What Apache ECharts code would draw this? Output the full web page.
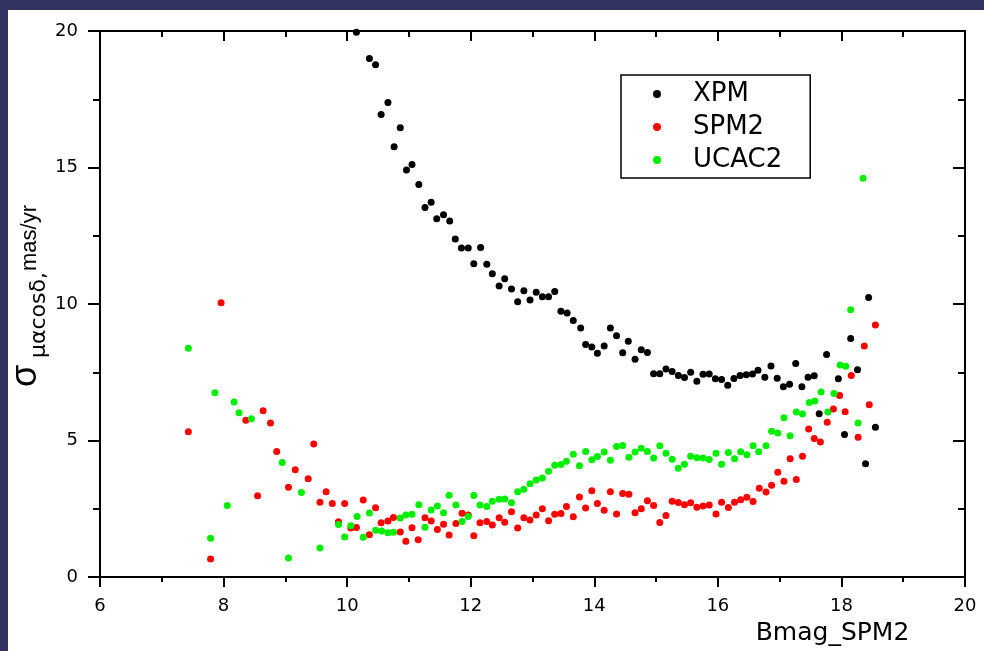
<!DOCTYPE html>
<html>
<head>
<meta charset="utf-8">
<script src="https://cdn.jsdelivr.net/npm/echarts@6/dist/echarts.min.js"></script>
<style>
  html, body { margin: 0; padding: 0; background: #343463; }
  #chart { width: 984px; height: 651px; }
</style>
</head>
<body>
<div id="chart"></div>
<script>
// Proper-motion error vs. B magnitude for three catalogues
const xpmMag = [10.15,10.36,10.46,10.55,10.66,10.76,10.86,10.96,11.05,11.16,11.26,11.36,11.45,11.56,11.66,11.75,11.85,11.96,12.05,12.16,12.26,12.35,12.46,12.55,12.66,12.76,12.86,12.96,13.06,13.16,13.26,13.36,13.46,13.56,13.66,13.78,13.86,13.96,14.05,14.16,14.26,14.36,14.46,14.55,14.66,14.76,14.86,14.96,15.06,15.16,15.26,15.36,15.46,15.56,15.66,15.76,15.86,15.96,16.06,16.16,16.26,16.36,16.46,16.56,16.65,16.76,16.86,16.96,17.06,17.16,17.26,17.36,17.46,17.56,17.64,17.76,17.95,18.05,18.15,18.26,18.39,18.44,18.55];
const xpmSigma = [19.95,18.99,18.76,16.94,17.38,15.76,16.46,14.91,15.11,14.38,13.54,13.73,13.12,13.27,13.04,12.38,12.05,12.05,11.48,12.07,11.46,11.11,10.66,10.93,10.55,10.08,10.49,10.15,10.43,10.27,10.27,10.46,9.74,9.67,9.40,9.12,8.52,8.43,8.20,8.46,9.12,8.84,8.22,8.64,7.98,8.33,8.23,7.45,7.45,7.62,7.53,7.38,7.31,7.50,7.17,7.43,7.44,7.26,7.24,7.03,7.27,7.38,7.41,7.44,7.58,7.32,7.73,7.28,6.97,7.06,7.82,6.97,7.32,7.37,5.98,8.15,7.26,5.22,8.74,7.59,4.15,10.24,5.49];

const spm2Mag = [7.43,7.79,7.96,8.36,8.55,8.64,8.76,8.86,9.05,9.16,9.37,9.46,9.56,9.66,9.76,9.86,9.96,10.06,10.15,10.26,10.36,10.46,10.55,10.66,10.75,10.86,10.95,11.05,11.15,11.26,11.36,11.46,11.56,11.65,11.76,11.86,11.96,12.05,12.15,12.26,12.35,12.46,12.55,12.66,12.76,12.86,12.96,13.06,13.16,13.26,13.36,13.46,13.55,13.66,13.76,13.86,13.96,14.05,14.16,14.26,14.36,14.46,14.56,14.66,14.76,14.86,14.96,15.06,15.16,15.26,15.36,15.46,15.56,15.66,15.76,15.86,15.97,16.06,16.17,16.27,16.37,16.47,16.57,16.67,16.78,16.87,16.97,17.07,17.17,17.27,17.37,17.47,17.56,17.66,17.77,17.87,17.97,18.06,18.16,18.27,18.37,18.45,18.55];
const spm2Sigma = [5.32,0.66,10.05,5.74,2.98,6.09,5.64,4.60,3.29,3.93,3.60,4.87,2.74,3.13,2.70,2.03,2.70,1.80,1.82,2.82,1.55,2.54,1.99,2.05,2.18,1.65,1.31,1.81,1.37,2.17,2.05,1.74,1.94,1.54,1.96,2.34,2.27,1.51,1.99,2.04,1.91,2.17,2.01,2.39,1.80,2.17,2.09,2.27,2.50,2.06,2.30,2.33,2.59,2.21,2.93,2.53,3.16,2.70,2.45,3.13,2.31,3.06,3.03,2.36,2.50,2.80,2.62,2.00,2.26,2.78,2.73,2.65,2.72,2.56,2.60,2.64,2.31,2.74,2.55,2.74,2.83,2.92,2.77,3.25,3.12,3.36,3.84,3.51,4.33,3.57,4.43,5.42,5.08,4.95,5.67,6.16,6.65,6.06,7.38,5.12,8.46,6.31,9.23];

const ucac2Mag = [7.43,7.79,7.86,8.06,8.17,8.25,8.45,8.95,9.05,9.26,9.56,9.86,9.96,10.06,10.16,10.26,10.36,10.46,10.56,10.66,10.75,10.86,10.95,11.05,11.16,11.26,11.36,11.46,11.56,11.65,11.76,11.86,11.96,12.05,12.15,12.26,12.35,12.46,12.55,12.66,12.76,12.86,12.96,13.06,13.16,13.26,13.36,13.46,13.55,13.66,13.76,13.86,13.96,14.05,14.16,14.26,14.36,14.46,14.56,14.66,14.76,14.86,14.96,15.06,15.16,15.26,15.36,15.46,15.56,15.66,15.76,15.86,15.97,16.06,16.17,16.27,16.37,16.47,16.57,16.66,16.78,16.87,16.97,17.07,17.17,17.27,17.37,17.48,17.57,17.67,17.78,17.88,17.98,18.07,18.15,18.27,18.35];
const ucac2Sigma = [8.38,1.42,6.75,2.62,6.41,6.02,5.80,4.20,0.70,3.10,1.07,1.93,1.47,1.88,2.22,1.46,2.35,1.72,1.69,1.62,1.64,2.16,2.27,2.30,2.65,1.83,2.46,2.60,2.36,3.00,2.64,2.04,2.22,2.99,2.64,2.59,2.78,2.85,2.86,2.72,3.13,3.22,3.42,3.56,3.63,3.88,4.10,4.12,4.24,4.50,4.08,4.60,4.30,4.42,4.58,4.28,4.78,4.82,4.39,4.58,4.72,4.60,4.36,4.81,4.54,4.32,3.99,4.13,4.43,4.37,4.36,4.31,4.54,4.13,4.56,4.33,4.59,4.48,4.81,4.59,4.81,5.34,5.28,5.84,5.18,6.05,5.97,6.39,6.45,6.78,6.05,6.72,7.77,7.72,9.79,5.64,14.61];

const seriesNames = ['XPM', 'SPM2', 'UCAC2'];
const seriesColors = ['#000000', '#ff0000', '#00ee00'];
const xTicks = { min: 6, max: 20, step: 2 };
const yTicks = { min: 0, max: 20, step: 5 };

const pairs = (xs, ys) => xs.map((x, i) => [x, ys[i]]);
const seriesData = [pairs(xpmMag, xpmSigma), pairs(spm2Mag, spm2Sigma), pairs(ucac2Mag, ucac2Sigma)];

const FONT = 'DejaVu Sans';
const axisLine = { show: true, onZero: false, lineStyle: { color: '#000', width: 2 } };

// Vertical y-axis title: σ with subscript μαcosδ, then the unit.
// The group is turned 90° so local x runs up the page and local y runs right.
const yTitle = {
  type: 'group', x: 0, y: 390, rotation: Math.PI / 2, silent: true,
  children: [
    { type: 'text', x: 3, y: 26,
      style: { text: 'σ', fontFamily: 'Liberation Sans', fontSize: 36, fill: '#000', align: 'left', verticalAlign: 'middle' } },
    { type: 'text', x: 32, y: 39,
      style: { text: 'μαcosδ,', fontFamily: 'DejaVu Sans', fontSize: 22, fill: '#000', align: 'left', verticalAlign: 'middle' } },
    { type: 'text', x: 119, y: 30,
      style: { text: 'mas/yr', fontFamily: 'Liberation Sans', fontSize: 22, fill: '#000', align: 'left', verticalAlign: 'middle' } }
  ]
};

const chart = echarts.init(document.getElementById('chart'), null, { renderer: 'canvas' });

chart.setOption({
  backgroundColor: '#343463',
  animation: false,
  graphic: [{
    type: 'rect', z: -10, silent: true,
    shape: { x: 8, y: 10, width: 976, height: 641 },
    style: { fill: '#ffffff' }
  }, yTitle],
  grid: { left: 100, right: 19, top: 31, bottom: 67 },
  legend: {
    orient: 'vertical',
    left: 621, top: 75,
    padding: [4, 28, 3, 32],
    itemGap: 3,
    itemWidth: 8, itemHeight: 8,
    icon: 'circle',
    backgroundColor: '#fff',
    borderColor: '#000', borderWidth: 1.5,
    textStyle: { fontFamily: FONT, fontSize: 26, lineHeight: 30, color: '#000', padding: [0, 0, 0, 27] },
    data: seriesNames
  },
  xAxis: [{
    type: 'value', position: 'bottom',
    min: xTicks.min, max: xTicks.max, interval: xTicks.step,
    axisLine,
    axisTick: { show: true, length: 10, lineStyle: { color: '#000', width: 2 } },
    minorTick: { show: true, splitNumber: 2, length: 5, lineStyle: { color: '#000', width: 2 } },
    splitLine: { show: false },
    axisLabel: { fontFamily: FONT, fontSize: 18, color: '#000', margin: 20 },
    name: 'Bmag_SPM2',
    nameLocation: 'middle', nameGap: 32,
    nameTextStyle: { fontFamily: FONT, fontSize: 25, lineHeight: 26, color: '#000', padding: [0, 0, 0, 600] }
  }, {
    type: 'value', position: 'top',
    min: xTicks.min, max: xTicks.max, interval: xTicks.step,
    axisLine,
    axisTick: { show: true, inside: true, length: 10, lineStyle: { color: '#000', width: 2 } },
    minorTick: { show: true, splitNumber: 2, length: 6, lineStyle: { color: '#000', width: 2 } },
    splitLine: { show: false },
    axisLabel: { show: false }
  }],
  yAxis: [{
    type: 'value', position: 'left',
    min: yTicks.min, max: yTicks.max, interval: yTicks.step,
    axisLine,
    axisTick: { show: true, length: 12, lineStyle: { color: '#000', width: 2 } },
    minorTick: { show: true, splitNumber: 2, length: 7, lineStyle: { color: '#000', width: 2 } },
    splitLine: { show: false },
    axisLabel: { fontFamily: FONT, fontSize: 18, color: '#000', margin: 22 }
  }, {
    type: 'value', position: 'right',
    min: yTicks.min, max: yTicks.max, interval: yTicks.step,
    axisLine,
    axisTick: { show: true, inside: true, length: 12, lineStyle: { color: '#000', width: 2 } },
    minorTick: { show: true, splitNumber: 2, length: 7, lineStyle: { color: '#000', width: 2 } },
    splitLine: { show: false },
    axisLabel: { show: false }
  }],
  series: seriesNames.map((name, i) => ({
    name,
    type: 'scatter',
    xAxisIndex: 0, yAxisIndex: 0,
    symbol: 'circle', symbolSize: 7,
    itemStyle: { color: seriesColors[i], opacity: 1 },
    data: seriesData[i]
  }))
});
</script>
</body>
</html>
